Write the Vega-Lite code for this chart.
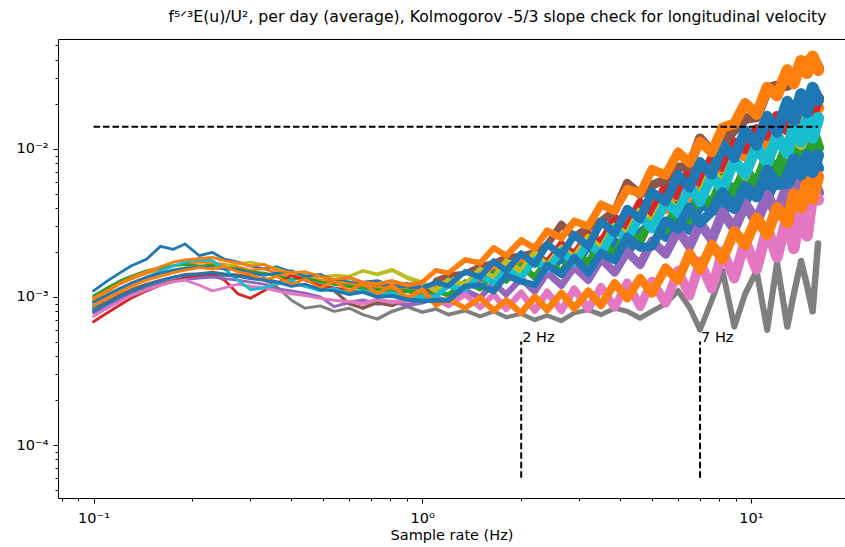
{
  "$schema": "https://vega.github.io/schema/vega-lite/v6.json",
  "width": 787,
  "height": 459,
  "autosize": {"type": "none"},
  "padding": {"left": 58, "top": 39, "right": 0, "bottom": 49},
  "background": "white",
  "config": {"view": {"stroke": null}, "font": "DejaVu Sans"},
  "title": {
    "text": "f⁵ᐟ³E(u)/U², per day (average), Kolmogorov -5/3 slope check for longitudinal velocity",
    "font": "DejaVu Sans", "fontSize": 15.7, "fontWeight": "normal", "color": "black",
    "anchor": "middle", "dx": 46, "offset": 12
  },
  "datasets": {
    "spectra": [
      {"f":0.1,"s01":1.10e-3,"s02":0.95e-3,"s03":1.02e-3,"s04":0.68e-3,"s05":0.78e-3,"s06":0.84e-3,"s07":0.74e-3,"s08":0.82e-3,"s09":0.92e-3,"s10":0.86e-3,"s11":0.92e-3,"s12":0.88e-3,"s13":0.80e-3,"s14":0.98e-3},
      {"f":0.11,"s01":1.28e-3,"s02":1.08e-3,"s03":1.15e-3,"s04":0.78e-3,"s05":0.86e-3,"s06":0.93e-3,"s07":0.84e-3,"s08":0.90e-3,"s09":1.02e-3,"s10":0.98e-3,"s11":1.03e-3,"s12":0.98e-3,"s13":0.90e-3,"s14":1.10e-3},
      {"f":0.12,"s01":1.45e-3,"s02":1.22e-3,"s03":1.28e-3,"s04":0.88e-3,"s05":0.95e-3,"s06":1.03e-3,"s07":0.93e-3,"s08":0.98e-3,"s09":1.12e-3,"s10":1.10e-3,"s11":1.14e-3,"s12":1.08e-3,"s13":1.00e-3,"s14":1.24e-3},
      {"f":0.13,"s01":1.62e-3,"s02":1.32e-3,"s03":1.38e-3,"s04":0.98e-3,"s05":1.04e-3,"s06":1.12e-3,"s07":1.02e-3,"s08":1.06e-3,"s09":1.22e-3,"s10":1.22e-3,"s11":1.24e-3,"s12":1.18e-3,"s13":1.09e-3,"s14":1.35e-3},
      {"f":0.145,"s01":1.80e-3,"s02":1.45e-3,"s03":1.50e-3,"s04":1.10e-3,"s05":1.13e-3,"s06":1.22e-3,"s07":1.12e-3,"s08":1.16e-3,"s09":1.34e-3,"s10":1.36e-3,"s11":1.36e-3,"s12":1.30e-3,"s13":1.20e-3,"s14":1.48e-3},
      {"f":0.16,"s01":2.20e-3,"s02":1.55e-3,"s03":1.58e-3,"s04":1.20e-3,"s05":1.21e-3,"s06":1.30e-3,"s07":1.20e-3,"s08":1.24e-3,"s09":1.44e-3,"s10":1.50e-3,"s11":1.45e-3,"s12":1.38e-3,"s13":1.29e-3,"s14":1.60e-3},
      {"f":0.175,"s01":2.10e-3,"s02":1.62e-3,"s03":1.63e-3,"s04":1.28e-3,"s05":1.27e-3,"s06":1.36e-3,"s07":1.27e-3,"s08":1.30e-3,"s09":1.52e-3,"s10":1.62e-3,"s11":1.52e-3,"s12":1.46e-3,"s13":1.36e-3,"s14":1.72e-3},
      {"f":0.19,"s01":2.28e-3,"s02":1.68e-3,"s03":1.66e-3,"s04":1.35e-3,"s05":1.31e-3,"s06":1.42e-3,"s07":1.30e-3,"s08":1.33e-3,"s09":1.58e-3,"s10":1.72e-3,"s11":1.56e-3,"s12":1.52e-3,"s13":1.40e-3,"s14":1.78e-3},
      {"f":0.21,"s01":1.90e-3,"s02":1.72e-3,"s03":1.62e-3,"s04":1.40e-3,"s05":1.34e-3,"s06":1.44e-3,"s07":1.20e-3,"s08":1.36e-3,"s09":1.60e-3,"s10":1.78e-3,"s11":1.60e-3,"s12":1.58e-3,"s13":1.43e-3,"s14":1.82e-3},
      {"f":0.23,"s01":2.00e-3,"s02":1.70e-3,"s03":1.64e-3,"s04":1.42e-3,"s05":1.36e-3,"s06":1.47e-3,"s07":1.10e-3,"s08":1.38e-3,"s09":1.58e-3,"s10":1.76e-3,"s11":1.58e-3,"s12":1.55e-3,"s13":1.45e-3,"s14":1.85e-3},
      {"f":0.25,"s01":1.80e-3,"s02":1.66e-3,"s03":1.58e-3,"s04":1.30e-3,"s05":1.33e-3,"s06":1.43e-3,"s07":1.15e-3,"s08":1.40e-3,"s09":1.62e-3,"s10":1.55e-3,"s11":1.55e-3,"s12":1.60e-3,"s13":1.42e-3,"s14":1.76e-3},
      {"f":0.275,"s01":1.72e-3,"s02":1.60e-3,"s03":1.55e-3,"s04":1.05e-3,"s05":1.30e-3,"s06":1.41e-3,"s07":1.22e-3,"s08":1.38e-3,"s09":1.68e-3,"s10":1.30e-3,"s11":1.52e-3,"s12":1.48e-3,"s13":1.38e-3,"s14":1.70e-3},
      {"f":0.3,"s01":1.62e-3,"s02":1.52e-3,"s03":1.48e-3,"s04":0.98e-3,"s05":1.26e-3,"s06":1.36e-3,"s07":1.18e-3,"s08":1.42e-3,"s09":1.72e-3,"s10":1.12e-3,"s11":1.45e-3,"s12":1.42e-3,"s13":1.33e-3,"s14":1.62e-3},
      {"f":0.33,"s01":1.55e-3,"s02":1.55e-3,"s03":1.45e-3,"s04":1.10e-3,"s05":1.22e-3,"s06":1.33e-3,"s07":1.15e-3,"s08":1.30e-3,"s09":1.65e-3,"s10":1.15e-3,"s11":1.40e-3,"s12":1.30e-3,"s13":1.30e-3,"s14":1.66e-3},
      {"f":0.36,"s01":1.60e-3,"s02":1.45e-3,"s03":1.40e-3,"s04":1.22e-3,"s05":1.14e-3,"s06":1.27e-3,"s07":1.10e-3,"s08":1.18e-3,"s09":1.55e-3,"s10":1.22e-3,"s11":1.45e-3,"s12":1.38e-3,"s13":1.26e-3,"s14":1.52e-3},
      {"f":0.4,"s01":1.48e-3,"s02":1.40e-3,"s03":1.32e-3,"s04":1.40e-3,"s05":1.10e-3,"s06":1.25e-3,"s07":1.05e-3,"s08":0.95e-3,"s09":1.45e-3,"s10":1.30e-3,"s11":1.50e-3,"s12":1.22e-3,"s13":1.18e-3,"s14":1.46e-3},
      {"f":0.44,"s01":1.42e-3,"s02":1.36e-3,"s03":1.35e-3,"s04":1.30e-3,"s05":1.06e-3,"s06":1.18e-3,"s07":1.02e-3,"s08":0.84e-3,"s09":1.42e-3,"s10":1.18e-3,"s11":1.38e-3,"s12":1.32e-3,"s13":1.22e-3,"s14":1.48e-3},
      {"f":0.49,"s01":1.38e-3,"s02":1.30e-3,"s03":1.26e-3,"s04":1.20e-3,"s05":1.00e-3,"s06":1.16e-3,"s07":0.98e-3,"s08":0.87e-3,"s09":1.36e-3,"s10":1.10e-3,"s11":1.42e-3,"s12":1.15e-3,"s13":1.12e-3,"s14":1.38e-3},
      {"f":0.54,"s01":1.30e-3,"s02":1.28e-3,"s03":1.22e-3,"s04":1.15e-3,"s05":0.86e-3,"s06":1.10e-3,"s07":0.95e-3,"s08":0.80e-3,"s09":1.40e-3,"s10":1.14e-3,"s11":1.30e-3,"s12":1.28e-3,"s13":1.10e-3,"s14":1.32e-3},
      {"f":0.6,"s01":1.26e-3,"s02":1.22e-3,"s03":1.18e-3,"s04":1.10e-3,"s05":0.92e-3,"s06":0.90e-3,"s07":0.93e-3,"s08":0.84e-3,"s09":1.38e-3,"s10":1.05e-3,"s11":1.35e-3,"s12":1.10e-3,"s13":1.04e-3,"s14":1.35e-3},
      {"f":0.66,"s01":1.20e-3,"s02":1.18e-3,"s03":1.14e-3,"s04":1.08e-3,"s05":0.95e-3,"s06":0.84e-3,"s07":0.90e-3,"s08":0.76e-3,"s09":1.50e-3,"s10":1.10e-3,"s11":1.25e-3,"s12":1.24e-3,"s13":1.08e-3,"s14":1.25e-3},
      {"f":0.73,"s01":1.22e-3,"s02":1.16e-3,"s03":1.12e-3,"s04":1.04e-3,"s05":0.90e-3,"s06":0.92e-3,"s07":0.96e-3,"s08":0.71e-3,"s09":1.42e-3,"s10":1.02e-3,"s11":1.28e-3,"s12":1.05e-3,"s13":1.00e-3,"s14":1.22e-3},
      {"f":0.81,"s01":1.15e-3,"s02":1.12e-3,"s03":1.08e-3,"s04":1.02e-3,"s05":0.93e-3,"s06":0.88e-3,"s07":0.92e-3,"s08":0.80e-3,"s09":1.52e-3,"s10":1.06e-3,"s11":1.18e-3,"s12":1.20e-3,"s13":1.02e-3,"s14":1.28e-3},
      {"f":0.9,"s01":1.18e-3,"s02":1.10e-3,"s03":1.10e-3,"s04":1.00e-3,"s05":0.88e-3,"s06":0.98e-3,"s07":0.95e-3,"s08":0.86e-3,"s09":1.35e-3,"s10":0.98e-3,"s11":1.22e-3,"s12":0.98e-3,"s13":0.96e-3,"s14":1.20e-3},
      {"f":1.0,"s01":1.12e-3,"s02":1.08e-3,"s03":1.05e-3,"s04":0.98e-3,"s05":0.92e-3,"s06":0.97e-3,"s07":0.96e-3,"s08":0.79e-3,"s09":1.25e-3,"s10":1.00e-3,"s11":1.15e-3,"s12":1.12e-3,"s13":0.94e-3,"s14":1.26e-3},
      {"f":1.1,"s01":1.22e-3,"s02":1.17e-3,"s03":1.10e-3,"s04":1.02e-3,"s05":1.00e-3,"s06":1.30e-3,"s07":0.98e-3,"s08":0.83e-3,"s09":1.10e-3,"s10":1.01e-3,"s11":1.25e-3,"s12":0.88e-3,"s13":0.95e-3,"s14":1.51e-3},
      {"f":1.2,"s01":1.33e-3,"s02":1.29e-3,"s03":1.03e-3,"s04":1.22e-3,"s05":0.92e-3,"s06":1.40e-3,"s07":0.87e-3,"s08":0.76e-3,"s09":1.30e-3,"s10":1.19e-3,"s11":1.19e-3,"s12":0.97e-3,"s13":0.95e-3,"s14":1.45e-3},
      {"f":1.35,"s01":1.19e-3,"s02":1.19e-3,"s03":1.26e-3,"s04":1.16e-3,"s05":1.11e-3,"s06":1.45e-3,"s07":1.04e-3,"s08":0.81e-3,"s09":1.21e-3,"s10":1.12e-3,"s11":1.48e-3,"s12":0.84e-3,"s13":1.18e-3,"s14":1.78e-3},
      {"f":1.5,"s01":1.31e-3,"s02":1.35e-3,"s03":1.14e-3,"s04":1.48e-3,"s05":0.99e-3,"s06":1.62e-3,"s07":0.85e-3,"s08":0.74e-3,"s09":1.53e-3,"s10":1.41e-3,"s11":1.36e-3,"s12":0.99e-3,"s13":1.20e-3,"s14":1.70e-3},
      {"f":1.65,"s01":1.56e-3,"s02":1.65e-3,"s03":1.44e-3,"s04":1.31e-3,"s05":1.24e-3,"s06":1.70e-3,"s07":1.04e-3,"s08":0.80e-3,"s09":1.34e-3,"s10":1.24e-3,"s11":1.74e-3,"s12":0.81e-3,"s13":1.09e-3,"s14":2.14e-3},
      {"f":1.8,"s01":1.32e-3,"s02":1.42e-3,"s03":1.29e-3,"s04":1.64e-3,"s05":1.04e-3,"s06":1.85e-3,"s07":0.83e-3,"s08":0.73e-3,"s09":1.73e-3,"s10":1.53e-3,"s11":1.50e-3,"s12":0.95e-3,"s13":1.40e-3,"s14":1.90e-3},
      {"f":2.0,"s01":1.58e-3,"s02":1.73e-3,"s03":1.63e-3,"s04":1.46e-3,"s05":1.33e-3,"s06":1.90e-3,"s07":1.07e-3,"s08":0.77e-3,"s09":1.49e-3,"s10":1.35e-3,"s11":1.96e-3,"s12":0.78e-3,"s13":1.27e-3,"s14":2.41e-3},
      {"f":2.2,"s01":1.80e-3,"s02":2.01e-3,"s03":1.36e-3,"s04":1.96e-3,"s05":1.09e-3,"s06":2.00e-3,"s07":0.81e-3,"s08":0.70e-3,"s09":1.97e-3,"s10":1.79e-3,"s11":1.66e-3,"s12":1.00e-3,"s13":1.21e-3,"s14":2.14e-3},
      {"f":2.4,"s01":1.45e-3,"s02":1.65e-3,"s03":1.75e-3,"s04":1.70e-3,"s05":1.46e-3,"s06":2.25e-3,"s07":1.08e-3,"s08":0.75e-3,"s09":1.61e-3,"s10":1.53e-3,"s11":2.27e-3,"s12":0.82e-3,"s13":1.64e-3,"s14":2.79e-3},
      {"f":2.65,"s01":1.81e-3,"s02":2.10e-3,"s03":1.46e-3,"s04":2.28e-3,"s05":1.20e-3,"s06":3.10e-3,"s07":0.81e-3,"s08":0.69e-3,"s09":2.13e-3,"s10":2.04e-3,"s11":1.92e-3,"s12":1.06e-3,"s13":1.42e-3,"s14":2.51e-3},
      {"f":2.9,"s01":1.55e-3,"s02":1.85e-3,"s03":2.00e-3,"s04":1.93e-3,"s05":1.59e-3,"s06":2.55e-3,"s07":1.13e-3,"s08":0.78e-3,"s09":1.82e-3,"s10":1.70e-3,"s11":2.62e-3,"s12":0.84e-3,"s13":1.85e-3,"s14":3.24e-3},
      {"f":3.2,"s01":2.20e-3,"s02":2.70e-3,"s03":1.70e-3,"s04":2.64e-3,"s05":1.30e-3,"s06":2.95e-3,"s07":0.83e-3,"s08":0.82e-3,"s09":2.51e-3,"s10":2.30e-3,"s11":2.20e-3,"s12":1.09e-3,"s13":1.46e-3,"s14":3.01e-3},
      {"f":3.5,"s01":1.87e-3,"s02":2.37e-3,"s03":2.37e-3,"s04":2.29e-3,"s05":1.81e-3,"s06":3.25e-3,"s07":1.17e-3,"s08":0.76e-3,"s09":2.07e-3,"s10":1.95e-3,"s11":3.22e-3,"s12":0.88e-3,"s13":1.98e-3,"s14":4.21e-3},
      {"f":3.85,"s01":2.39e-3,"s02":3.13e-3,"s03":1.91e-3,"s04":3.43e-3,"s05":1.46e-3,"s06":3.80e-3,"s07":0.85e-3,"s08":0.84e-3,"s09":2.98e-3,"s10":2.88e-3,"s11":2.70e-3,"s12":1.24e-3,"s13":1.77e-3,"s14":3.83e-3},
      {"f":4.2,"s01":1.96e-3,"s02":2.67e-3,"s03":2.77e-3,"s04":2.96e-3,"s05":2.02e-3,"s06":5.90e-3,"s07":1.25e-3,"s08":0.80e-3,"s09":2.57e-3,"s10":2.44e-3,"s11":3.93e-3,"s12":0.98e-3,"s13":2.55e-3,"s14":5.36e-3},
      {"f":4.6,"s01":2.73e-3,"s02":3.87e-3,"s03":2.37e-3,"s04":4.34e-3,"s05":1.65e-3,"s06":4.90e-3,"s07":0.86e-3,"s08":0.72e-3,"s09":3.75e-3,"s10":3.50e-3,"s11":3.37e-3,"s12":1.34e-3,"s13":2.16e-3,"s14":5.01e-3},
      {"f":5.0,"s01":3.16e-3,"s02":4.67e-3,"s03":3.52e-3,"s04":3.65e-3,"s05":2.39e-3,"s06":5.70e-3,"s07":1.28e-3,"s08":0.80e-3,"s09":3.08e-3,"s10":2.88e-3,"s11":5.12e-3,"s12":1.06e-3,"s13":2.20e-3,"s14":7.28e-3},
      {"f":5.5,"s01":2.53e-3,"s02":3.89e-3,"s03":2.87e-3,"s04":5.60e-3,"s05":1.95e-3,"s06":6.20e-3,"s07":0.91e-3,"s08":0.90e-3,"s09":4.51e-3,"s10":4.34e-3,"s11":4.39e-3,"s12":1.57e-3,"s13":3.25e-3,"s14":6.66e-3},
      {"f":6.0,"s01":3.37e-3,"s02":5.39e-3,"s03":4.17e-3,"s04":4.83e-3,"s05":2.82e-3,"s06":7.50e-3,"s07":1.51e-3,"s08":1.10e-3,"s09":3.71e-3,"s10":3.66e-3,"s11":6.69e-3,"s12":1.30e-3,"s13":2.88e-3,"s14":9.50e-3},
      {"f":6.5,"s01":2.83e-3,"s02":4.70e-3,"s03":3.33e-3,"s04":7.20e-3,"s05":2.19e-3,"s06":7.60e-3,"s07":1.02e-3,"s08":0.85e-3,"s09":5.68e-3,"s10":5.64e-3,"s11":5.47e-3,"s12":1.97e-3,"s13":4.05e-3,"s14":8.06e-3},
      {"f":7.0,"s01":4.16e-3,"s02":7.16e-3,"s03":5.09e-3,"s04":5.97e-3,"s05":3.14e-3,"s06":11.8e-3,"s07":1.73e-3,"s08":0.60e-3,"s09":4.59e-3,"s10":4.37e-3,"s11":8.17e-3,"s12":1.53e-3,"s13":3.16e-3,"s14":11.2e-3},
      {"f":7.6,"s01":4.09e-3,"s02":7.35e-3,"s03":4.16e-3,"s04":8.60e-3,"s05":2.44e-3,"s06":9.50e-3,"s07":1.14e-3,"s08":0.95e-3,"s09":7.03e-3,"s10":6.56e-3,"s11":6.69e-3,"s12":2.25e-3,"s13":3.79e-3,"s14":9.49e-3},
      {"f":8.2,"s01":3.60e-3,"s02":6.72e-3,"s03":6.32e-3,"s04":7.55e-3,"s05":3.72e-3,"s06":11.0e-3,"s07":2.03e-3,"s08":1.50e-3,"s09":5.52e-3,"s10":5.28e-3,"s11":10.6e-3,"s12":1.80e-3,"s13":5.09e-3,"s14":13.9e-3},
      {"f":8.9,"s01":5.49e-3,"s02":10.7e-3,"s03":4.93e-3,"s04":11.0e-3,"s05":2.89e-3,"s06":13.5e-3,"s07":1.34e-3,"s08":0.63e-3,"s09":8.45e-3,"s10":8.32e-3,"s11":8.72e-3,"s12":2.78e-3,"s13":3.94e-3,"s14":14.8e-3},
      {"f":9.6,"s01":4.44e-3,"s02":8.92e-3,"s03":7.21e-3,"s04":10.0e-3,"s05":4.24e-3,"s06":16.0e-3,"s07":2.39e-3,"s08":1.05e-3,"s09":6.67e-3,"s10":6.75e-3,"s11":13.3e-3,"s12":2.25e-3,"s13":5.59e-3,"s14":20.3e-3},
      {"f":10.4,"s01":6.18e-3,"s02":12.9e-3,"s03":5.75e-3,"s04":13.5e-3,"s05":3.22e-3,"s06":16.5e-3,"s07":1.54e-3,"s08":1.50e-3,"s09":10.5e-3,"s10":10.4e-3,"s11":10.6e-3,"s12":3.42e-3,"s13":4.74e-3,"s14":17.1e-3},
      {"f":11.2,"s01":4.67e-3,"s02":10.1e-3,"s03":8.81e-3,"s04":12.4e-3,"s05":4.83e-3,"s06":25.5e-3,"s07":2.93e-3,"s08":0.60e-3,"s09":8.07e-3,"s10":8.04e-3,"s11":16.6e-3,"s12":2.65e-3,"s13":7.21e-3,"s14":26.1e-3},
      {"f":12.0,"s01":6.72e-3,"s02":15.0e-3,"s03":6.92e-3,"s04":16.5e-3,"s05":3.63e-3,"s06":26.5e-3,"s07":1.86e-3,"s08":1.70e-3,"s09":12.4e-3,"s10":12.1e-3,"s11":13.0e-3,"s12":4.02e-3,"s13":5.75e-3,"s14":22.9e-3},
      {"f":12.9,"s01":7.50e-3,"s02":17.3e-3,"s03":10.6e-3,"s04":13.5e-3,"s05":5.57e-3,"s06":27.0e-3,"s07":3.53e-3,"s08":0.63e-3,"s09":9.37e-3,"s10":9.40e-3,"s11":20.9e-3,"s12":3.19e-3,"s13":5.91e-3,"s14":34.2e-3},
      {"f":13.5,"s01":5.65e-3,"s02":13.3e-3,"s03":7.69e-3,"s04":19.5e-3,"s05":4.10e-3,"s06":29.0e-3,"s07":2.13e-3,"s08":1.05e-3,"s09":13.9e-3,"s10":14.3e-3,"s11":15.7e-3,"s12":4.94e-3,"s13":8.53e-3,"s14":27.7e-3},
      {"f":14.2,"s01":8.02e-3,"s02":19.4e-3,"s03":11.3e-3,"s04":16.0e-3,"s05":5.92e-3,"s06":38.5e-3,"s07":4.24e-3,"s08":1.75e-3,"s09":10.8e-3,"s10":11.2e-3,"s11":23.5e-3,"s12":4.02e-3,"s13":6.71e-3,"s14":39.4e-3},
      {"f":14.8,"s01":6.47e-3,"s02":16.0e-3,"s03":8.81e-3,"s04":21.0e-3,"s05":4.35e-3,"s06":38.0e-3,"s07":2.60e-3,"s08":1.20e-3,"s09":16.1e-3,"s10":15.9e-3,"s11":17.7e-3,"s12":5.93e-3,"s13":9.03e-3,"s14":32.5e-3},
      {"f":15.4,"s01":9.08e-3,"s02":22.9e-3,"s03":13.1e-3,"s04":17.5e-3,"s05":6.23e-3,"s06":41.5e-3,"s07":5.08e-3,"s08":0.80e-3,"s09":12.3e-3,"s10":11.9e-3,"s11":25.9e-3,"s12":4.61e-3,"s13":6.99e-3,"s14":42.1e-3},
      {"f":16.0,"s01":7.40e-3,"s02":18.9e-3,"s03":10.2e-3,"s04":22.0e-3,"s05":5.06e-3,"s06":35.0e-3,"s07":4.54e-3,"s08":2.30e-3,"s09":16.0e-3,"s10":16.2e-3,"s11":21.4e-3,"s12":6.51e-3,"s13":9.07e-3,"s14":34.1e-3}
    ]
  },
  "resolve": {
    "axis": {"x": "independent", "y": "independent"},
    "scale": {"size": "independent"}
  },
  "layer": [
    {
      "data": {"name": "spectra"},
      "transform": [
        {"fold": ["s08"], "as": ["day", "spectrum"]}
      ],
      "mark": {"type": "trail", "clip": true, "color": "#7f7f7f"},
      "encoding": {
        "x": {
          "field": "f", "type": "quantitative",
          "scale": {"type": "log", "domain": [0.07798, 19.32], "nice": false},
          "axis": {
            "title": "Sample rate (Hz)",
            "values": [0.08,0.09,0.1,0.2,0.3,0.4,0.5,0.6,0.7,0.8,0.9,1,2,3,4,5,6,7,8,9,10],
            "labelExpr": "datum.value === 0.1 ? '10⁻¹' : datum.value === 1 ? '10⁰' : datum.value === 10 ? '10¹' : ''",
            "tickSize": {"condition": {"test": "datum.value === 0.1 || datum.value === 1 || datum.value === 10", "value": 5}, "value": 3},
            "labelOverlap": false, "labelFlush": false, "labelBound": false,
            "grid": false, "tickColor": "black", "domainColor": "black", "labelColor": "black", "titleColor": "black",
            "labelFont": "DejaVu Sans", "titleFont": "DejaVu Sans",
            "labelFontSize": 14.5, "titleFontSize": 14.5, "titleFontWeight": "normal",
            "labelPadding": 8, "titlePadding": 4
          }
        },
        "y": {
          "field": "spectrum", "type": "quantitative",
          "scale": {"type": "log", "domain": [4.385e-5, 0.0553], "nice": false},
          "axis": {
            "orient": "left",
            "title": null,
            "values": [5e-5,6e-5,7e-5,8e-5,9e-5,0.0001,2e-4,3e-4,4e-4,5e-4,6e-4,7e-4,8e-4,9e-4,0.001,0.002,0.003,0.004,0.005,0.006,0.007,0.008,0.009,0.01,0.02,0.03,0.04,0.05],
            "labelExpr": "datum.value === 0.0001 ? '10⁻⁴' : datum.value === 0.001 ? '10⁻³' : datum.value === 0.01 ? '10⁻²' : ''",
            "tickSize": {"condition": {"test": "datum.value === 0.0001 || datum.value === 0.001 || datum.value === 0.01", "value": 5}, "value": 3},
            "labelOverlap": false, "labelFlush": false, "labelBound": false,
            "grid": false, "tickColor": "black", "domainColor": "black", "labelColor": "black",
            "labelFont": "DejaVu Sans", "labelFontSize": 14.5, "labelPadding": 5
          }
        },
        "size": {
          "field": "f", "type": "quantitative", "legend": null,
          "scale": {"type": "log", "domain": [0.5, 16], "range": [2.8, 6.5], "clamp": true}
        }
      }
    },
    {
      "data": {"name": "spectra"},
      "transform": [
        {"fold": ["s01","s02","s03","s04","s05","s06","s07","s09","s10","s11","s12","s13","s14"], "as": ["day", "spectrum"]}
      ],
      "mark": {"type": "trail", "clip": true},
      "encoding": {
        "x": {"field": "f", "type": "quantitative", "scale": {"type": "log", "domain": [0.07798, 19.32], "nice": false}, "axis": null},
        "y": {"field": "spectrum", "type": "quantitative", "scale": {"type": "log", "domain": [4.385e-5, 0.0553], "nice": false}, "axis": null},
        "size": {
          "field": "f", "type": "quantitative", "legend": null,
          "scale": {"type": "log", "domain": [0.5, 16], "range": [2.8, 12], "clamp": true}
        },
        "color": {
          "field": "day", "type": "nominal", "legend": null,
          "scale": {
            "domain": ["s01","s02","s03","s04","s05","s06","s07","s09","s10","s11","s12","s13","s14"],
            "range": ["#1f77b4","#ff7f0e","#2ca02c","#d62728","#9467bd","#8c564b","#e377c2","#bcbd22","#17becf","#1f77b4","#ff7f0e","#1f77b4","#ff7f0e"]
          }
        }
      }
    },
    {
      "data": {"values": [{"f_start": 0.1, "f_end": 16, "level": 0.0141}]},
      "mark": {"type": "rule", "color": "black", "strokeWidth": 2, "strokeDash": [6.5, 3]},
      "encoding": {
        "x": {
          "field": "f_start", "type": "quantitative",
          "scale": {"type": "log", "domain": [0.07798, 19.32], "nice": false},
          "axis": {"orient": "top", "title": null, "labels": false, "ticks": false, "grid": false, "domainColor": "black"}
        },
        "x2": {"field": "f_end"},
        "y": {
          "field": "level", "type": "quantitative",
          "scale": {"type": "log", "domain": [4.385e-5, 0.0553], "nice": false},
          "axis": null
        }
      }
    },
    {
      "data": {"values": [
        {"hz": 2, "low": 6e-5, "high": 5e-4},
        {"hz": 7, "low": 6e-5, "high": 5e-4}
      ]},
      "mark": {"type": "rule", "color": "black", "strokeWidth": 2, "strokeDash": [6.5, 3]},
      "encoding": {
        "x": {"field": "hz", "type": "quantitative", "scale": {"type": "log", "domain": [0.07798, 19.32], "nice": false}, "axis": null},
        "y": {"field": "low", "type": "quantitative", "scale": {"type": "log", "domain": [4.385e-5, 0.0553], "nice": false}, "axis": null},
        "y2": {"field": "high"}
      }
    },
    {
      "data": {"values": [
        {"hz": 2, "high": 5e-4, "label": "2 Hz"},
        {"hz": 7, "high": 5e-4, "label": "7 Hz"}
      ]},
      "mark": {"type": "text", "align": "left", "baseline": "alphabetic", "dx": 1, "font": "DejaVu Sans", "fontSize": 14.5, "color": "black"},
      "encoding": {
        "x": {"field": "hz", "type": "quantitative", "scale": {"type": "log", "domain": [0.07798, 19.32], "nice": false}, "axis": null},
        "y": {"field": "high", "type": "quantitative", "scale": {"type": "log", "domain": [4.385e-5, 0.0553], "nice": false}, "axis": null},
        "text": {"field": "label"}
      }
    }
  ]
}
